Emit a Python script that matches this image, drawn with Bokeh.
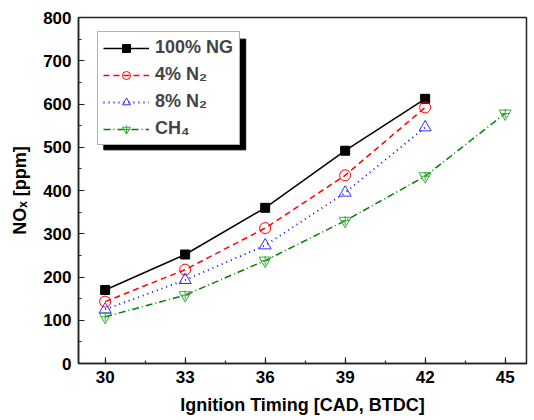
from bokeh.plotting import figure
from bokeh.models import (Range1d, SingleIntervalTicker, Legend, LegendItem, BoxAnnotation)
from bokeh.embed import file_html
from bokeh.resources import INLINE

timing = [30, 33, 36, 39, 42]
timing_ch4 = [30, 33, 36, 39, 42, 45]
ng100 = [170, 252, 360, 492, 612]
n2_4 = [143, 217, 313, 435, 592]
n2_8 = [125, 193, 273, 395, 546]
ch4 = [108, 158, 238, 330, 433, 578]

FONT = "Liberation Sans"

p = figure(width=528, height=418, output_backend="svg", toolbar_location=None,
           x_range=Range1d(29, 45.8), y_range=Range1d(0, 800),
           min_border_left=78, min_border_right=2, min_border_top=17, min_border_bottom=55)
p.grid.visible = False
p.outline_line_color = "#222222"
p.outline_line_width = 1.5
p.background_fill_color = "white"
p.border_fill_color = "white"

p.xaxis.ticker = SingleIntervalTicker(interval=3, num_minor_ticks=2)
p.yaxis.ticker = SingleIntervalTicker(interval=100, num_minor_ticks=2)
for ax in (p.xaxis, p.yaxis):
    ax.major_tick_in = 6
    ax.major_tick_out = 0
    ax.minor_tick_in = 3
    ax.minor_tick_out = 0
    ax.axis_line_color = "#222222"
    ax.axis_line_width = 1.5
    ax.major_tick_line_color = "#222222"
    ax.minor_tick_line_color = "#222222"
    ax.major_tick_line_width = 1.2
    ax.minor_tick_line_width = 1.2
    ax.major_label_text_font = FONT
    ax.major_label_text_font_style = "bold"
    ax.major_label_text_font_size = "17px"
    ax.major_label_text_color = "black"
    ax.axis_label_text_font = FONT
    ax.axis_label_text_font_style = "bold"
    ax.axis_label_text_font_size = "18px"
    ax.axis_label_text_color = "black"
p.xaxis.major_label_standoff = 7
p.yaxis.major_label_standoff = 7
p.xaxis.axis_label = "Ignition Timing [CAD, BTDC]"
p.yaxis.axis_label = "NOₓ [ppm]"
p.xaxis.axis_label_standoff = 9
p.yaxis.axis_label_standoff = 10

r1l = p.line(timing, ng100, line_color="black", line_width=1.5)
r1m = p.scatter(timing, ng100, marker="square", size=9, fill_color="black", line_color="black")
r2l = p.line(timing, n2_4, line_color="red", line_width=1.5, line_dash="6 4")
r2m = p.scatter(timing, n2_4, marker="circle", size=11, fill_color=None, line_color="red", line_width=1)
r3l = p.line(timing, n2_8, line_color="blue", line_width=1.8, line_dash="1 4")
r3m = p.scatter(timing, n2_8, marker="triangle", size=12, fill_color=None, line_color="#3030ff", line_width=1)
r4l = p.line(timing_ch4, ch4, line_color="#008000", line_width=1.5, line_dash="7 3 1 3")
r4m = p.scatter(timing_ch4, ch4, marker="inverted_triangle", size=12, fill_color=None, line_color="#33aa33", line_width=1)
r4c = p.scatter(timing_ch4, ch4, marker="cross", size=9, fill_color=None, line_color="#33aa33", line_width=1)

# legend shadow (data units)
shadow = BoxAnnotation(left=29.95, right=35.27, top=750, bottom=494,
                       fill_color="black", fill_alpha=1.0, line_color="black",
                       line_alpha=1.0, level="annotation")
p.add_layout(shadow)

legend = Legend(items=[
    LegendItem(label="100% NG", renderers=[r1l, r1m]),
    LegendItem(label="4% N₂", renderers=[r2l, r2m]),
    LegendItem(label="8% N₂", renderers=[r3l, r3m]),
    LegendItem(label="CH₄", renderers=[r4l, r4m, r4c]),
], location=(19, 218))
legend.label_text_font = FONT
legend.label_text_font_style = "bold"
legend.label_text_font_size = "18px"
legend.glyph_width = 46
legend.glyph_height = 20
legend.spacing = 6
legend.padding = 5
legend.margin = 0
legend.label_standoff = 6
legend.border_line_color = "#666666"
legend.border_line_width = 1
legend.background_fill_alpha = 1
legend.background_fill_color = "white"
legend.label_width = 79
p.add_layout(legend, "center")

open("out.html", "w").write(file_html(p, INLINE))
